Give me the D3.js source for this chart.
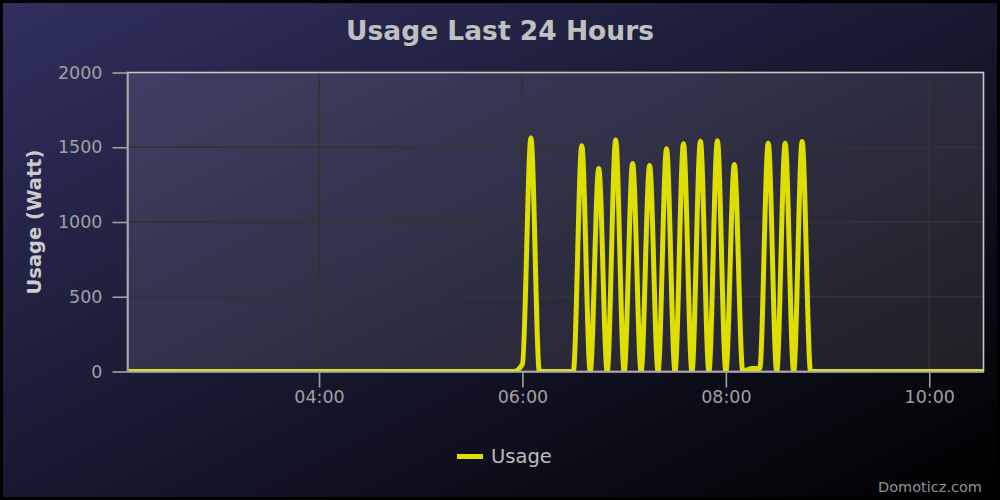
<!DOCTYPE html>
<html>
<head>
    <meta charset="utf-8">
    <title>Usage Last 24 Hours</title>
    <script src="https://d3js.org/d3.v7.min.js"></script>
    <style>
        body { margin: 0; background: #000; }
        svg { display: block; font-family: "DejaVu Sans", Verdana, sans-serif; }
    </style>
</head>
<body>
<div id="chart"></div>
<script>
    // 5 minute samples (time, watt)
    var times = ["02:05", "05:55", "06:00", "06:05", "06:10", "06:30", "06:35", "06:40", "06:45", "06:50",
        "06:55", "07:00", "07:05", "07:10", "07:15", "07:20", "07:25", "07:30", "07:35", "07:40",
        "07:45", "07:50", "07:55", "08:00", "08:05", "08:10", "08:15", "08:20", "08:25", "08:30",
        "08:35", "08:40", "08:45", "08:50", "10:35"];
    var usage = [0, 0, 50, 1562, 0, 0, 1510, 0, 1358, 0,
        1548, 0, 1392, 0, 1378, 0, 1490, 0, 1523, 0,
        1540, 0, 1543, 0, 1385, 0, 20, 20, 1527, 0,
        1527, 0, 1538, 0, 0];
    var xTicks = ["04:00", "06:00", "08:00", "10:00"];
    var yTicks = [0, 500, 1000, 1500, 2000];
    var xStart = "02:07", xEnd = "10:32";

    var W = 1000, H = 500;
    var margin = { top: 72.5, right: 16.5, bottom: 128.5, left: 127.5 };
    var width = W - margin.left - margin.right,
        height = H - margin.top - margin.bottom;

    var parseTime = d3.timeParse("%H:%M");
    var data = times.map(function (t, i) { return { date: parseTime(t), value: usage[i] }; });

    var x = d3.scaleTime().domain([parseTime(xStart), parseTime(xEnd)]).range([0, width]);
    var y = d3.scaleLinear().domain([0, 2000]).range([height, 0]);

    var svg = d3.select("#chart").append("svg")
        .attr("width", W)
        .attr("height", H);

    var defs = svg.append("defs");
    var bg = defs.append("linearGradient").attr("id", "bg")
        .attr("x1", "0%").attr("y1", "0%").attr("x2", "100%").attr("y2", "100%");
    bg.append("stop").attr("offset", "0%").attr("stop-color", "rgb(48,48,96)");
    bg.append("stop").attr("offset", "100%").attr("stop-color", "rgb(0,0,0)");
    defs.append("clipPath").attr("id", "plotclip")
        .append("rect").attr("width", width).attr("height", height);

    // chart background with black border
    svg.append("rect")
        .attr("x", 1.5).attr("y", 1.5)
        .attr("width", W - 3).attr("height", H - 3)
        .attr("fill", "url(#bg)")
        .attr("stroke", "#000").attr("stroke-width", 3);

    var g = svg.append("g")
        .attr("transform", "translate(" + margin.left + "," + margin.top + ")");

    // plot area
    g.append("rect")
        .attr("width", width).attr("height", height)
        .attr("fill", "rgba(255,255,255,0.1)");

    // grid
    g.selectAll("line.vgrid").data(xTicks).enter().append("line")
        .attr("class", "vgrid")
        .attr("x1", function (d) { return x(parseTime(d)); })
        .attr("x2", function (d) { return x(parseTime(d)); })
        .attr("y1", 0).attr("y2", height)
        .attr("stroke", "#333").attr("stroke-width", 1.6);
    g.selectAll("line.hgrid").data(yTicks).enter().append("line")
        .attr("class", "hgrid")
        .attr("x1", 0).attr("x2", width)
        .attr("y1", function (d) { return y(d); })
        .attr("y2", function (d) { return y(d); })
        .attr("stroke", "#333").attr("stroke-width", 1.6);

    // the usage line
    var valueline = d3.line()
        .x(function (d) { return x(d.date); })
        .y(function (d) { return y(d.value); })
        .curve(d3.curveMonotoneX);

    g.append("path")
        .datum(data)
        .attr("clip-path", "url(#plotclip)")
        .attr("fill", "none")
        .attr("stroke", "#dede00")
        .attr("stroke-width", 5)
        .attr("stroke-linejoin", "round")
        .attr("d", valueline);

    // plot border
    g.append("rect")
        .attr("width", width).attr("height", height)
        .attr("fill", "none")
        .attr("stroke", "#c8c8c8").attr("stroke-width", 1.6);

    // x axis
    var xAxis = g.append("g")
        .attr("transform", "translate(0," + height + ")")
        .call(d3.axisBottom(x)
            .tickValues(xTicks.map(parseTime))
            .tickFormat(d3.timeFormat("%H:%M"))
            .tickSizeInner(16).tickSizeOuter(0).tickPadding(3));
    xAxis.select(".domain").attr("stroke", "#a0a0a0").attr("stroke-width", 1.6);
    xAxis.selectAll(".tick line").attr("stroke", "#a0a0a0").attr("stroke-width", 1.6);
    xAxis.selectAll(".tick text")
        .attr("fill", "#a0a0a0")
        .style("font-family", "DejaVu Sans")
        .style("font-size", "17.5px");

    // y axis
    var yAxis = g.append("g")
        .call(d3.axisLeft(y)
            .tickValues(yTicks)
            .tickFormat(d3.format("d"))
            .tickSizeInner(15).tickSizeOuter(0).tickPadding(10));
    yAxis.select(".domain").attr("stroke", "#a0a0a0").attr("stroke-width", 1.6);
    yAxis.selectAll(".tick line").attr("stroke", "#a0a0a0").attr("stroke-width", 1.6);
    yAxis.selectAll(".tick text")
        .attr("fill", "#a0a0a0")
        .style("font-family", "DejaVu Sans")
        .style("font-size", "17.5px");

    // title
    svg.append("text")
        .attr("x", W / 2).attr("y", 40)
        .attr("text-anchor", "middle")
        .attr("fill", "#c0c0c0")
        .style("font-weight", "bold")
        .style("font-size", "26.5px")
        .text("Usage Last 24 Hours");

    // y axis title
    svg.append("text")
        .attr("transform", "translate(41," + (margin.top + height / 2) + ") rotate(-90)")
        .attr("text-anchor", "middle")
        .attr("fill", "#cccccc")
        .style("font-weight", "bold")
        .style("font-size", "19.5px")
        .text("Usage (Watt)");

    // legend
    svg.append("line")
        .attr("x1", 457).attr("x2", 483)
        .attr("y1", 456.5).attr("y2", 456.5)
        .attr("stroke", "#dede00").attr("stroke-width", 5);
    svg.append("text")
        .attr("x", 491).attr("y", 463)
        .attr("fill", "#bdbdbd")
        .style("font-size", "19.5px")
        .text("Usage");

    // credits
    svg.append("text")
        .attr("x", 982).attr("y", 492)
        .attr("text-anchor", "end")
        .attr("fill", "#909090")
        .style("font-size", "14.5px")
        .text("Domoticz.com");
</script>
</body>
</html>
